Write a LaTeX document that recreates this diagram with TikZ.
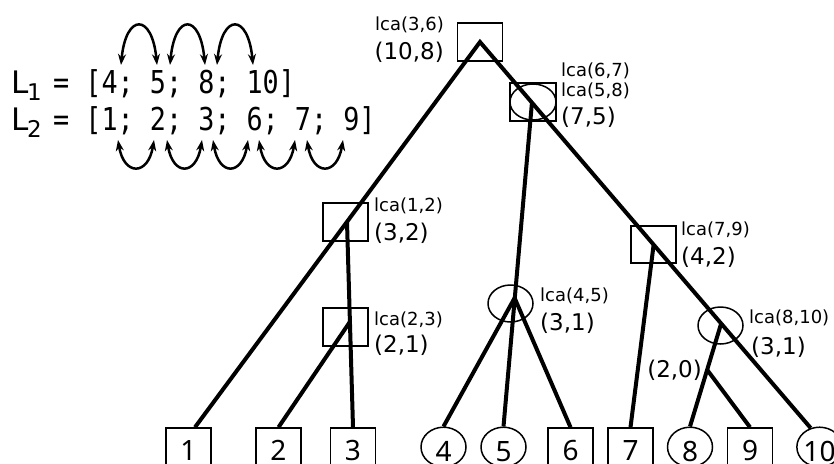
\documentclass[tikz,border=0pt]{standalone}
\usepackage{fontspec}
\setmainfont{DejaVu Sans}
\newfontfamily\leaffont{Noto Sans}
\newfontfamily\monof{DejaVu Sans Mono}[FakeStretch=0.85]
\usetikzlibrary{arrows.meta,shapes.geometric}
\begin{document}
\begin{tikzpicture}[x=1pt,y=-1pt,
  edge/.style={line width=4pt, line join=miter},
  inbox/.style={draw, line width=1.5pt, rectangle, inner sep=0pt, minimum width=45pt, minimum height=38pt},
  inell/.style={draw, line width=1.5pt, ellipse, inner sep=0pt, minimum width=45pt, minimum height=37pt},
  leafbox/.style={draw, line width=1.5pt, rectangle, inner sep=0pt, minimum width=45pt, minimum height=45pt,
     font=\leaffont\fontsize{28}{28}\selectfont, text height=20pt, text depth=0pt},
  leafell/.style={draw, line width=1.5pt, ellipse, inner sep=0pt, minimum width=45pt, minimum height=38pt,
     font=\leaffont\fontsize{28}{28}\selectfont, text height=28pt, text depth=0pt},
  small/.style={font=\fontsize{18}{18}\selectfont, inner sep=0pt},
  big/.style={font=\fontsize{23}{23}\selectfont, inner sep=0pt},
  swaparc/.style={line width=2.5pt, {Stealth[length=11pt,width=8pt]}-{Stealth[length=11pt,width=8pt]}},
]
\useasboundingbox (0,0) rectangle (834,463);
\clip (0,0) rectangle (834,463);

% list texts
\node[inner sep=0pt, anchor=base west, font=\fontsize{31}{31}\selectfont] (L1) at (11,93) {L};
\node[inner sep=0pt, anchor=base west, font=\fontsize{23}{23}\selectfont] (L1s) at (27,100) {1};
\node[inner sep=0pt, anchor=base west, font=\monof\fontsize{31.5}{31.5}\selectfont] (L1t) at (53,93) {= [4; 5; 8; 10]};
\node[inner sep=0pt, anchor=base west, font=\fontsize{31}{31}\selectfont] (L2) at (11,130) {L};
\node[inner sep=0pt, anchor=base west, font=\fontsize{23}{23}\selectfont] (L2s) at (27,137) {2};
\node[inner sep=0pt, anchor=base west, font=\monof\fontsize{31.5}{31.5}\selectfont] (L2t) at (53,130) {= [1; 2; 3; 6; 7; 9]};

% swap arcs
\draw[swaparc] (121,65) .. controls (126,13) and (152,13) .. (157,65);
\draw[swaparc] (170,65) .. controls (175,13) and (200,13) .. (205,65);
\draw[swaparc] (217,65) .. controls (222,13) and (248,13) .. (253,65);
\draw[swaparc] (118,140) .. controls (124,176) and (148,176) .. (154,140);
\draw[swaparc] (167,140) .. controls (173,176) and (196,176) .. (202,140);
\draw[swaparc] (213,140) .. controls (219,176) and (242,176) .. (248,140);
\draw[swaparc] (259,140) .. controls (265,176) and (289,176) .. (295,140);
\draw[swaparc] (307,140) .. controls (313,176) and (337,176) .. (343,140);

% internal nodes
\node[inbox] (root) at (480,42) {};
\node[inbox, minimum width=46pt] (n75) at (533,102) {};
\node[inell, minimum width=46pt, minimum height=36pt] (n75e) at (533,102) {};
\node[inbox] (n12) at (345.5,222) {};
\node[inbox] (n23) at (345.5,327) {};
\node[inell] (n45) at (510.5,303.5) {};
\node[inbox, minimum height=37pt] (n79) at (653.5,244.5) {};
\node[inell] (n810) at (720.5,325.5) {};

% leaves
\node[leafbox] (l1) at (188.5,450.5) {1};
\node[leafbox] (l2) at (278.5,450.5) {2};
\node[leafbox] (l3) at (353,450.5) {3};
\node[leafell] (l4) at (443.5,447) {4};
\node[leafell] (l5) at (503.5,447) {5};
\node[leafbox] (l6) at (570.5,450.5) {6};
\node[leafbox] (l7) at (630.5,450.5) {7};
\node[leafell] (l8) at (690,447) {8};
\node[leafbox] (l9) at (750,450.5) {9};
\node[leafell] (l10) at (819.5,447) {10};

% branch points
\coordinate (b75) at (532,102);
\coordinate (b12) at (347,222);
\coordinate (b23) at (349.8,322);
\coordinate (b45) at (514.6,298);
\coordinate (b79) at (653.6,245);
\coordinate (b810) at (721,324);
\coordinate (b20) at (707.3,370);

% edges
\draw[edge] ([xshift=6.5pt]l1.north) -- (root.center) -- (l10.115);
\draw[edge] (b12) -- (l3.north);
\draw[edge] (b23) -- (l2.north);
\draw[edge] (b75) -- (l5.north);
\draw[edge] (b45) -- (l4.north);
\draw[edge] (b45) -- (l6.north);
\draw[edge] (b79) -- (l7.north);
\draw[edge] (b810) -- (l8.north);
\draw[edge] (b20) -- (l9.north);

% labels
\node[small, anchor=base east] (t36) at (444,30) {lca(3,6)};
\node[big, anchor=base east] (v36) at (444,59) {(10,8)};
\node[small, anchor=base west] (t67) at (561,76) {lca(6,7)};
\node[small, anchor=base west] (t58) at (561,96) {lca(5,8)};
\node[big, anchor=base west] (v58) at (561,124) {(7,5)};
\node[small, anchor=base west] (t12) at (374,211) {lca(1,2)};
\node[big, anchor=base west] (v12) at (374,240) {(3,2)};
\node[small, anchor=base west] (t23) at (374,325) {lca(2,3)};
\node[big, anchor=base west] (v23) at (374,352) {(2,1)};
\node[small, anchor=base west] (t45) at (540,301) {lca(4,5)};
\node[big, anchor=base west] (v45) at (540,330) {(3,1)};
\node[small, anchor=base west] (t79) at (681,235) {lca(7,9)};
\node[big, anchor=base west] (v79) at (681,264) {(4,2)};
\node[small, anchor=base west] (t810) at (749,323) {lca(8,10)};
\node[big, anchor=base west] (v810) at (751,354) {(3,1)};
\node[big, anchor=base east] (v20) at (702,377) {(2,0)};
\end{tikzpicture}
\end{document}
